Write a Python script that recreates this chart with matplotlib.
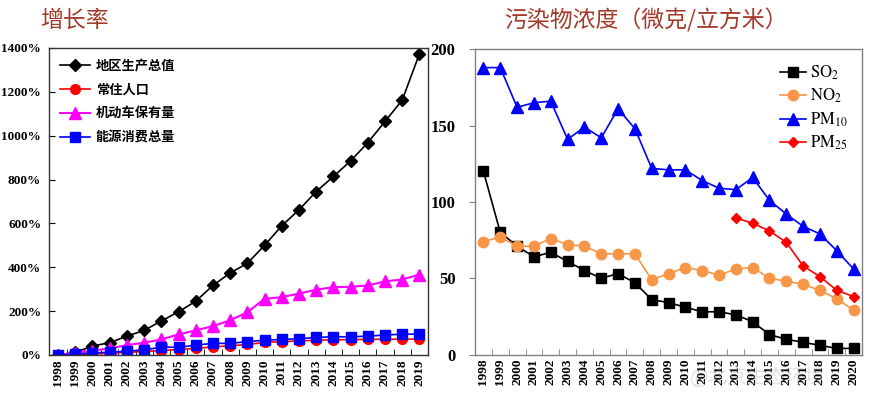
import numpy as np
import matplotlib
matplotlib.use('Agg')
import matplotlib.pyplot as plt
from matplotlib.ticker import FixedLocator, FuncFormatter

plt.rcParams['font.family'] = ['Liberation Serif', 'Noto Sans CJK SC']
plt.rcParams['mathtext.fontset'] = 'stix'

# 左图：增长率 (%)
years_l = [str(y) for y in range(1998, 2020)]
gdp = [0, 12, 41, 56, 86, 112, 155, 197, 245, 317, 374, 418, 500, 589, 662,
       745, 814, 885, 968, 1065, 1162, 1373]
pop = [0, 2, 5, 8, 12, 16, 20, 25, 30, 37, 42, 48, 57, 61, 64, 67, 69, 70,
       71, 72, 72, 73]
vehicle = [0, 10, 20, 30, 45, 56, 71, 94, 112, 132, 158, 195, 256, 264, 280,
           298, 309, 311, 317, 336, 344, 367]
energy = [0, 3, 10, 12, 17, 23, 36, 35, 45, 53, 53, 61, 67, 71, 74, 80, 83,
          83, 86, 91, 95, 95]

# 右图：污染物浓度
years_r = [str(y) for y in range(1998, 2021)]
so2 = [120, 80, 71, 64, 67, 61, 55, 50, 53, 47, 36, 34, 31, 28, 28, 26, 21.5,
       13, 10, 8, 6, 4, 4]
no2 = [74, 77, 71, 71, 76, 72, 71, 66, 66, 66, 49, 53, 57, 55, 52, 56, 57,
       50, 48, 46, 42, 36.5, 29]
pm10 = [188, 188, 162, 165, 166, 141, 149, 142, 161, 148, 122, 121, 121, 114,
        109, 108, 116, 101, 92, 84, 79, 68, 56]
pm25_years = [str(y) for y in range(2013, 2021)]
pm25 = [89.5, 86, 81, 73.5, 58, 51, 42, 38]

title_color = '#A33A2A'

fig = plt.figure(figsize=(8.71, 3.95), dpi=100)
ax1 = fig.add_axes([0.0568, 0.1013, 0.4346, 0.7772])
ax2 = fig.add_axes([0.5454, 0.1025, 0.4443, 0.7727])

xl = np.arange(len(years_l))
ax1.plot(xl, gdp, color='black', marker='D', ms=6, lw=1.2, label='地区生产总值')
ax1.plot(xl, pop, color='#FF0000', marker='o', ms=7, lw=1.2, label='常住人口')
ax1.plot(xl, vehicle, color='#FF00FF', marker='^', ms=8, lw=1.5, label='机动车保有量')
ax1.plot(xl, energy, color='#0000FF', marker='s', ms=7.5, lw=1.2, label='能源消费总量')
ax1.set_xlim(-0.5, len(years_l) - 0.5)
ax1.set_ylim(0, 1400)
ax1.set_yticks(range(0, 1401, 200))
ax1.yaxis.set_major_formatter(FuncFormatter(lambda v, p: f'{int(v)}%'))
ax1.set_xticks(xl)
ax1.set_xticklabels(years_l, rotation=90)
ax1.xaxis.set_minor_locator(FixedLocator(xl[:-1] + 0.5))
ax1.tick_params(axis='x', which='major', length=0, pad=3)
ax1.tick_params(axis='x', which='minor', direction='in', length=4)
ax1.tick_params(axis='y', direction='in', length=4, pad=6)
for lab in ax1.get_xticklabels() + ax1.get_yticklabels():
    lab.set_fontweight('bold')
    lab.set_fontsize(9.5)
for s in ax1.spines.values():
    s.set_color('#333333')
    s.set_linewidth(1.0)
ax1.legend(loc='upper left', frameon=False, handlelength=2.3,
           labelspacing=0.75, borderaxespad=0.4, handletextpad=0.4,
           bbox_to_anchor=(0.0, 1.0),
           prop={'family': ['Noto Sans CJK SC'], 'weight': 'bold', 'size': 9.5})

xr = np.arange(len(years_r))
xp = np.arange(len(years_r) - len(pm25), len(years_r))
ax2.plot(xr, so2, color='black', marker='s', ms=7.5, lw=1.2, label=r'$\mathrm{SO_2}$')
ax2.plot(xr, no2, color='#F79646', marker='o', ms=7.5, lw=1.2, label=r'$\mathrm{NO_2}$')
ax2.plot(xr, pm10, color='#0000FF', marker='^', ms=8, lw=1.2, label=r'$\mathrm{PM_{10}}$')
ax2.plot(xp, pm25, color='#FF0000', marker='D', ms=5.5, lw=1.2, label=r'$\mathrm{PM_{25}}$')
ax2.set_xlim(-0.5, len(years_r) - 0.5)
ax2.set_ylim(0, 200)
ax2.set_yticks(range(0, 201, 50))
ax2.set_xticks(xr)
ax2.set_xticklabels(years_r, rotation=90)
ax2.xaxis.set_minor_locator(FixedLocator(xr[:-1] + 0.5))
ax2.tick_params(axis='x', which='major', length=0, pad=3)
ax2.tick_params(axis='x', which='minor', direction='in', length=4, color='#808080')
ax2.tick_params(axis='y', direction='out', length=4, pad=10, color='#808080')
for lab in ax2.get_xticklabels():
    lab.set_fontweight('bold')
    lab.set_fontsize(9.5)
for lab in ax2.get_yticklabels():
    lab.set_fontweight('bold')
    lab.set_fontsize(12)
for s in ax2.spines.values():
    s.set_color('#808080')
    s.set_linewidth(1.0)
ax2.legend(loc='upper left', frameon=False, handlelength=1.6,
           labelspacing=0.3, borderaxespad=0.0, handletextpad=0.2,
           bbox_to_anchor=(0.77, 0.975), prop={'size': 12})

fig.text(0.046, 0.948, '增长率', color=title_color, fontsize=16.5,
         family=['Noto Sans CJK SC'], va='center', ha='left')
fig.text(0.741, 0.948, '污染物浓度（微克/立方米）', color=title_color,
         fontsize=16.5, family=['Noto Sans CJK SC'], va='center', ha='center')

fig.text(0.87, 0.045, '@北京生态环境', color='#999999', alpha=0.3, fontsize=14,
         family=['Noto Sans CJK SC'], va='center', ha='center')

fig.savefig('out.png', dpi=100)
